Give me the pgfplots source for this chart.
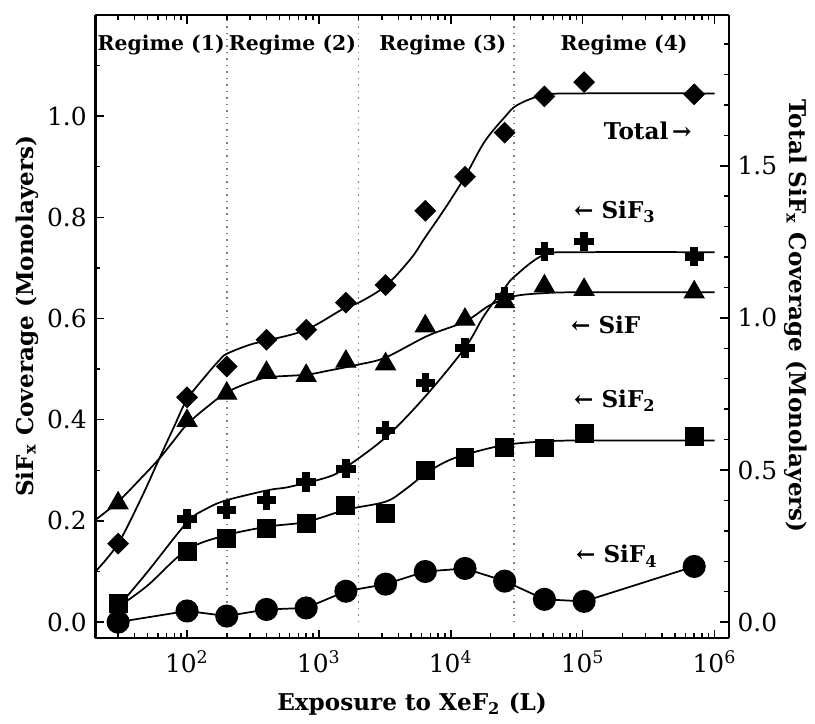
\documentclass[border=0pt]{standalone}
\usepackage{fontspec}
\setmainfont{DejaVu Serif}
\usepackage{pgfplots}
\pgfplotsset{compat=1.18}
\begin{document}
\begin{tikzpicture}
\begin{axis}[scale only axis, width=254.8pt, height=250.8pt, xmode=log,
  xmin=20.2, xmax=1.28e6,
  axis line style={line width=0.9pt},
  tick style={line width=0.6pt, black},
  major tick length=3.5pt, minor tick length=2pt,
  tick label style={font=\fontsize{10}{12}\selectfont},
  xticklabel style={yshift=-1.5pt},
  axis y line*=left,
  ymin=-0.032, ymax=1.2,
  ytick={0,0.2,0.4,0.6,0.8,1.0},
  minor ytick={0.1,0.3,0.5,0.7,0.9,1.1},
  yticklabel style={/pgf/number format/fixed, /pgf/number format/fixed zerofill, /pgf/number format/precision=1, /pgf/number format/assume math mode=true},
  xtick={100,1000,10000,100000,1000000},
  xticklabels={10\textsuperscript{2},10\textsuperscript{3},10\textsuperscript{4},10\textsuperscript{5},10\textsuperscript{6}},
  minor xtick={30,40,50,60,70,80,90,200,300,400,500,600,700,800,900,2000,3000,4000,5000,6000,7000,8000,9000,20000,30000,40000,50000,60000,70000,80000,90000,200000,300000,400000,500000,600000,700000,800000,900000},
]
% regime boundaries
\draw[dotted, gray, line width=0.6pt] (axis cs:200,0) -- (axis cs:200,1.2);
\draw[dotted, gray, line width=0.6pt] (axis cs:2000,0) -- (axis cs:2000,1.2);
\draw[dotted, gray, line width=0.6pt] (axis cs:30000,0) -- (axis cs:30000,1.2);
\node[font=\fontsize{8.2}{10}\selectfont\bfseries] at (axis cs:63.7,1.141) {Regime (1)};
\node[font=\fontsize{8.2}{10}\selectfont\bfseries] at (axis cs:630,1.141) {Regime (2)};
\node[font=\fontsize{8.2}{10}\selectfont\bfseries] at (axis cs:8700,1.141) {Regime (3)};
\node[font=\fontsize{8.2}{10}\selectfont\bfseries] at (axis cs:206000,1.141) {Regime (4)};
% SiF (triangles)
\addplot[black, line width=0.7pt, smooth, tension=0.55] coordinates {(20.2,0.202) (30,0.238) (45,0.285) (61.5,0.323) (80,0.360) (100,0.391) (140,0.424) (200,0.454) (300,0.474) (416,0.484) (800,0.489) (1180,0.497) (2000,0.509) (3200,0.523) (6700,0.566) (12800,0.594) (20000,0.627) (30000,0.644) (50000,0.650) (100000,0.652) (1000000,0.652)};
\addplot[only marks, mark=triangle*, mark size=4.6pt, black] coordinates {(30,0.235) (100,0.398) (200,0.452) (400,0.493) (800,0.487) (1600,0.515) (3200,0.510) (6400,0.585) (12800,0.598) (25600,0.633) (51200,0.664) (102400,0.657) (700000,0.652)};
% SiF3 (crosses)
\addplot[black, line width=0.7pt, smooth, tension=0.55] coordinates {(30,0.03) (50,0.099) (100,0.197) (140,0.224) (200,0.241) (416,0.261) (590,0.267) (1180,0.287) (1600,0.306) (3200,0.365) (6300,0.444) (12800,0.542) (18000,0.607) (25600,0.660) (30400,0.683) (51200,0.726) (100000,0.731) (1000000,0.731)};
\addplot[only marks, mark=+, mark size=3.9pt, black, mark options={line width=3pt}] coordinates {(100,0.204) (200,0.222) (400,0.241) (800,0.277) (1600,0.303) (3200,0.379) (6400,0.473) (12800,0.542) (25600,0.644) (51200,0.732) (102400,0.752) (700000,0.722)};
% SiF2 (squares)
\addplot[black, line width=0.7pt, smooth, tension=0.55] coordinates {(30,0.03) (50,0.072) (100,0.143) (200,0.172) (416,0.189) (800,0.198) (1600,0.222) (3200,0.238) (4500,0.262) (6400,0.293) (9000,0.316) (12800,0.331) (25600,0.350) (51200,0.357) (100000,0.359) (1000000,0.359)};
\addplot[only marks, mark=square*, mark size=3.6pt, black] coordinates {(30,0.037) (100,0.139) (200,0.165) (400,0.185) (800,0.195) (1600,0.231) (3200,0.215) (6400,0.300) (12800,0.326) (25600,0.345) (51200,0.344) (102400,0.372) (700000,0.367)};
% SiF4 (circles)
\addplot[black, line width=0.7pt, mark=*, mark size=4.3pt] coordinates {(30,0.0) (100,0.022) (200,0.012) (400,0.025) (800,0.028) (1600,0.061) (3200,0.075) (6400,0.100) (12800,0.106) (25600,0.081) (51200,0.045) (102400,0.041) (700000,0.110)};
% annotations
\node[anchor=east, font=\fontsize{9.3}{11}\selectfont\bfseries] at (axis cs:780000,0.970) {Total\,→};
\node[anchor=west, font=\fontsize{9.3}{11}\selectfont\bfseries] at (axis cs:73800,0.811) {← SiF\textsubscript{3}};
\node[anchor=west, font=\fontsize{9.3}{11}\selectfont\bfseries] at (axis cs:70000,0.587) {← SiF};
\node[anchor=west, font=\fontsize{9.3}{11}\selectfont\bfseries] at (axis cs:73800,0.438) {← SiF\textsubscript{2}};
\node[anchor=west, font=\fontsize{9.3}{11}\selectfont\bfseries] at (axis cs:76400,0.130) {← SiF\textsubscript{4}};
\end{axis}
\begin{axis}[scale only axis, width=254.8pt, height=250.8pt, xmode=log,
  xmin=20.2, xmax=1.28e6,
  axis line style={line width=0.9pt},
  tick style={line width=0.6pt, black},
  major tick length=3.5pt, minor tick length=2pt,
  tick label style={font=\fontsize{10}{12}\selectfont},
  axis y line*=right, axis x line=none,
  ymin=-0.0532, ymax=1.996,
  ytick={0,0.5,1.0,1.5},
  minor ytick={0.1,0.2,0.3,0.4,0.6,0.7,0.8,0.9,1.1,1.2,1.3,1.4,1.6,1.7,1.8,1.9},
  yticklabel style={/pgf/number format/fixed, /pgf/number format/fixed zerofill, /pgf/number format/precision=1, /pgf/number format/assume math mode=true},
]
% Total (diamonds), right-axis units
\addplot[black, line width=0.7pt, smooth, tension=0.55] coordinates {(20.2,0.166) (30,0.258) (45,0.408) (61.5,0.537) (80,0.644) (100,0.732) (140,0.812) (175,0.860) (200,0.882) (300,0.912) (416,0.927) (800,0.961) (1600,1.035) (2000,1.050) (3200,1.105) (5000,1.196) (6300,1.261) (9000,1.359) (12800,1.464) (18000,1.579) (25600,1.660) (32000,1.700) (51200,1.733) (100000,1.738) (1000000,1.738)};
\addplot[only marks, mark=square*, mark size=2.9pt, black, mark options={rotate=45}] coordinates {(30,0.258) (100,0.739) (200,0.840) (400,0.928) (800,0.961) (1600,1.050) (3200,1.108) (6400,1.352) (12800,1.464) (25600,1.609) (51200,1.728) (102400,1.775) (700000,1.735)};
\end{axis}
\node[rotate=90, font=\fontsize{9.3}{11}\selectfont\bfseries] at (-27.6pt,129.6pt) {SiF\textsubscript{x} Coverage (Monolayers)};
\node[rotate=-90, font=\fontsize{9.3}{11}\selectfont\bfseries] at (281.6pt,129.6pt) {Total SiF\textsubscript{x} Coverage (Monolayers)};
\node[font=\fontsize{9.3}{11}\selectfont\bfseries] at (127.4pt,-26.4pt) {Exposure to XeF\textsubscript{2} (L)};
\path (-38.4pt,-32pt) rectangle (287.6pt,256.8pt);
\end{tikzpicture}
\end{document}
